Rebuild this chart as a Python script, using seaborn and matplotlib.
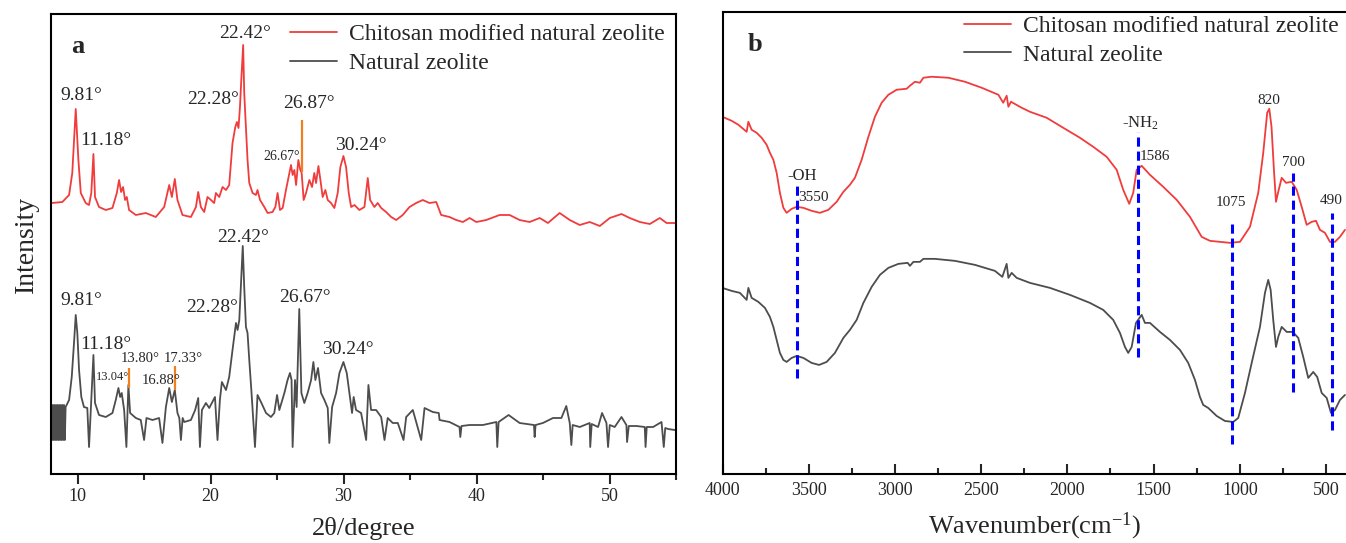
import matplotlib
matplotlib.use("Agg")
import matplotlib.pyplot as plt
import numpy as np
import pandas as pd
import seaborn as sns
from matplotlib.ticker import MultipleLocator, NullLocator

# ---------------- DATA ----------------
# XRD, chitosan modified natural zeolite (2theta in degree, intensity a.u.)
xrd_cs_2theta = [8.05, 8.85, 9.36, 9.60, 9.86, 10.06, 10.24, 10.61, 10.86, 11.03, 11.19, 11.31, 11.61,
                 12.12, 12.62, 12.95, 13.12, 13.27, 13.42, 13.57, 13.70, 13.87, 14.38, 15.13, 15.88,
                 16.51, 16.89, 17.09, 17.31, 17.51, 17.89, 18.52, 18.90, 19.07, 19.27, 19.52, 19.77,
                 20.03, 20.27, 20.40, 20.65, 20.90, 21.16, 21.40, 21.65, 21.86, 21.98, 22.10, 22.21,
                 22.31, 22.45, 22.53, 22.66, 22.78, 22.91, 23.16, 23.41, 23.53, 23.72, 24.04, 24.29,
                 24.66, 24.87, 25.04, 25.22, 25.42, 25.67, 25.87, 26.05, 26.17, 26.30, 26.43, 26.60,
                 26.75, 26.85, 27.00, 27.18, 27.43, 27.63, 27.80, 27.93, 28.11, 28.26, 28.43, 28.63,
                 28.81, 29.06, 29.31, 29.56, 29.76, 29.99, 30.19, 30.39, 30.57, 30.82, 31.19, 31.57,
                 31.82, 32.00, 32.32, 32.57, 32.83, 33.20, 33.58, 33.96, 34.45, 34.96, 35.46, 35.96,
                 36.46, 36.97, 37.34, 37.97, 38.47, 38.97, 39.48, 39.98, 40.73, 41.73, 42.49, 43.24,
                 43.99, 44.75, 45.37, 46.25, 47.01, 47.76, 48.51, 49.27, 50.02, 50.90, 51.52, 52.28,
                 53.03, 53.78, 54.29, 54.91]
xrd_cs_int = [277, 278, 285, 307, 371, 320, 287, 277, 275, 287, 326, 283, 273,
              270, 272, 287, 300, 288, 293, 280, 283, 270, 265, 267, 263,
              273, 295, 283, 301, 280, 265, 263, 273, 288, 273, 268, 283,
              280, 277, 287, 283, 293, 290, 295, 337, 353, 358, 352, 373,
              400, 435, 387, 353, 320, 297, 287, 285, 290, 280, 273, 267,
              268, 273, 287, 270, 272, 290, 303, 315, 305, 310, 295, 320,
              310, 307, 280, 287, 300, 293, 307, 297, 314, 300, 283, 290,
              280, 277, 272, 287, 313, 324, 313, 287, 273, 275, 270, 273,
              302, 280, 273, 277, 272, 268, 263, 260, 265, 273, 277, 280,
              277, 278, 265, 263, 260, 258, 262, 258, 260, 265, 265, 260,
              258, 262, 257, 267, 260, 255, 258, 254, 262, 266, 262, 258,
              256, 262, 257, 257]

# XRD, natural zeolite
xrd_nz_2theta = [8.02, 8.08, 8.14, 8.20, 8.26, 8.32, 8.38, 8.44, 8.50, 8.56, 8.62, 8.68, 8.74, 8.80,
                 8.86, 8.92, 8.98, 9.04, 9.10, 9.36, 9.56, 9.73, 9.86, 9.98, 10.11, 10.28, 10.48,
                 10.73, 10.86, 10.99, 11.19, 11.31, 11.61, 12.12, 12.62, 12.87, 13.07, 13.20, 13.32,
                 13.50, 13.67, 13.82, 13.95, 14.38, 14.75, 15.00, 15.18, 15.63, 16.13, 16.38, 16.64,
                 16.89, 17.09, 17.31, 17.51, 17.65, 17.77, 17.90, 18.02, 18.52, 18.84, 19.07, 19.20,
                 19.35, 19.65, 19.90, 20.33, 20.52, 20.70, 20.85, 21.16, 21.40, 21.65, 21.91, 22.03,
                 22.16, 22.42, 22.53, 22.66, 22.78, 22.91, 23.08, 23.34, 23.53, 23.79, 24.17, 24.54,
                 24.79, 25.00, 25.17, 25.55, 25.79, 25.97, 26.09, 26.17, 26.35, 26.47, 26.67, 26.83,
                 27.05, 27.30, 27.56, 27.73, 27.88, 28.08, 28.31, 28.56, 28.81, 28.93, 29.14, 29.44,
                 29.69, 29.99, 30.24, 30.44, 30.64, 30.76, 30.94, 31.32, 31.70, 31.87, 32.07, 32.45,
                 32.83, 33.08, 33.32, 33.70, 34.08, 34.51, 34.71, 35.21, 35.84, 36.09, 36.71, 37.16,
                 37.22, 37.97, 38.72, 38.78, 38.87, 39.48, 40.48, 41.49, 41.56, 41.66, 42.41, 43.24,
                 44.32, 44.37, 44.44, 44.99, 45.75, 46.38, 46.75, 47.01, 47.13, 47.23, 47.76, 48.51,
                 48.55, 48.66, 49.14, 49.44, 49.77, 49.89, 50.02, 50.39, 50.90, 51.27, 51.32, 51.45,
                 52.03, 52.65, 52.71, 52.80, 53.28, 53.91, 54.08, 54.19, 54.41, 54.91]
xrd_nz_int = [75, 40, 75, 40, 75, 40, 75, 40, 75, 40, 75, 40, 75, 40,
              75, 40, 75, 40, 73, 80, 103, 137, 165, 147, 110, 83, 73,
              72, 33, 70, 125, 77, 65, 63, 67, 80, 92, 83, 87,
              70, 33, 95, 67, 62, 60, 40, 62, 60, 62, 37, 73,
              92, 78, 90, 67, 62, 40, 62, 58, 60, 70, 82, 33,
              70, 77, 72, 83, 40, 80, 98, 90, 103, 130, 157, 150,
              160, 234, 193, 153, 147, 120, 87, 33, 85, 78, 67, 63,
              67, 85, 70, 87, 100, 107, 100, 33, 100, 73, 171, 87,
              77, 87, 100, 118, 100, 112, 87, 80, 72, 37, 73, 87,
              107, 118, 107, 87, 67, 83, 70, 67, 40, 95, 70, 70,
              63, 40, 62, 57, 57, 40, 63, 70, 40, 72, 68, 67,
              60, 58, 53, 43, 54, 55, 55, 58, 33, 58, 65, 57,
              55, 43, 55, 57, 62, 62, 74, 57, 35, 55, 53, 57,
              33, 56, 53, 67, 57, 33, 55, 53, 63, 55, 38, 54,
              54, 53, 33, 53, 53, 58, 33, 52, 51, 50]

# FTIR, chitosan modified natural zeolite (wavenumber cm-1, transmittance a.u.)
ftir_cs_wn = [4001, 3947, 3908, 3860, 3850, 3831, 3802, 3773, 3744, 3725, 3705, 3686, 3667, 3647,
              3628, 3599, 3570, 3531, 3483, 3435, 3386, 3338, 3299, 3261, 3232, 3193, 3154, 3116,
              3077, 3038, 2990, 2932, 2913, 2884, 2855, 2835, 2787, 2690, 2594, 2497, 2400, 2372,
              2352, 2342, 2327, 2265, 2217, 2120, 2024, 1927, 1850, 1772, 1714, 1676, 1641, 1618,
              1598, 1569, 1521, 1444, 1366, 1289, 1221, 1173, 1057, 999, 941, 893, 864, 841, 829,
              816, 802, 790, 777, 757, 732, 699, 670, 641, 612, 583, 558, 535, 506, 477, 448, 419,
              390]
ftir_cs_t = [363, 359, 355, 348, 358, 350, 347, 342, 335, 327, 320, 307, 287, 272,
             267, 271, 273, 272, 269, 267, 270, 278, 288, 295, 302, 320, 343, 363,
             377, 385, 390, 391, 394, 398, 397, 402, 403, 402, 398, 392, 385, 377,
             384, 373, 378, 372, 368, 362, 352, 342, 333, 323, 310, 290, 276, 287,
             310, 314, 305, 293, 280, 263, 243, 239, 237, 238, 253, 287, 327, 367, 371,
             353, 310, 278, 288, 302, 297, 298, 290, 273, 255, 258, 259, 250, 247, 238, 238, 243,
             250]

# FTIR, natural zeolite
ftir_nz_wn = [4001, 3947, 3899, 3860, 3850, 3831, 3792, 3754, 3725, 3705, 3686, 3667, 3647, 3628,
              3599, 3570, 3531, 3483, 3440, 3396, 3348, 3299, 3261, 3222, 3183, 3135, 3087, 3038,
              2980, 2926, 2913, 2893, 2855, 2835, 2768, 2652, 2536, 2420, 2377, 2352, 2342, 2323,
              2294, 2217, 2101, 1985, 1869, 1792, 1734, 1695, 1666, 1647, 1627, 1602, 1569, 1550,
              1521, 1463, 1405, 1347, 1299, 1260, 1231, 1212, 1183, 1134, 1086, 1038, 1009, 970,
              931, 883, 854, 835, 821, 806, 790, 777, 757, 728, 693, 661, 632, 603, 574, 551, 525,
              496, 471, 448, 419, 390]
ftir_nz_t = [192, 189, 187, 180, 192, 182, 178, 172, 163, 153, 140, 127, 120, 118,
             122, 124, 122, 117, 115, 118, 127, 142, 150, 160, 177, 193, 205, 212,
             216, 217, 214, 218, 218, 221, 221, 219, 215, 209, 203, 216, 202, 207,
             202, 197, 192, 185, 177, 170, 160, 147, 133, 127, 133, 157, 165, 157,
             157, 148, 140, 130, 117, 100, 83, 75, 72, 64, 59, 58, 62, 87,
             117, 153, 187, 200, 190, 160, 133, 143, 153, 148, 148, 142, 123, 102, 108, 103, 87,
             82, 67, 70, 80, 85]

series_names = ["Chitosan modified natural zeolite", "Natural zeolite"]

# peak labels, panel a: (text, 2theta, intensity, fontsize)
xrd_labels = [("9.81°", 10.30, 384.5, 14), ("11.18°", 12.12, 339.5, 14), ("22.28°", 20.20, 380.5, 14),
              ("22.42°", 22.61, 447, 14), ("26.67°", 25.32, 324, 10), ("26.87°", 27.40, 376, 14),
              ("30.24°", 31.27, 334.5, 14),
              ("9.81°", 10.30, 179.5, 14), ("11.18°", 12.12, 135.5, 14), ("13.04°", 12.65, 103, 9),
              ("13.80°", 14.69, 121.5, 10.5), ("16.88°", 16.28, 99, 10.5), ("17.33°", 17.94, 121.5, 10.5),
              ("22.28°", 20.12, 172.5, 14), ("22.42°", 22.46, 242.5, 14), ("26.67°", 27.07, 182.5, 14),
              ("30.24°", 30.34, 131, 14)]
# orange marker lines, panel a: (2theta, from, to)
xrd_marks = [(26.88, 308, 360), (13.85, 92, 112), (17.31, 90, 114)]

# FTIR bands, panel b: dashed line (wavenumber, from, to)
ftir_bands = [(3570, 102, 295), (1592, 123, 348), (1047, 36, 260), (693, 88, 307), (465, 50, 267)]
ftir_labels = [("-OH", 3539, 304, 12), ("3550", 3471, 282.5, 11), ("-NH$_2$", 1579, 356, 12),
               ("1586", 1492, 323, 11), ("820", 834, 379, 11), ("700", 687, 317, 11),
               ("1075", 1052, 277, 11), ("490", 469, 279, 11)]

# ---------------- STYLE ----------------
sns.set_style("ticks")
plt.rcParams['font.family'] = ['Liberation Serif', 'DejaVu Serif']
plt.rcParams['mathtext.default'] = 'regular'
RED = "#F03C3C"
GREY = "#4D4D4D"
ORANGE = "#F07F1E"
BLUE = "#0000FF"

fig = plt.figure(figsize=(13.46, 5.43), dpi=100)
ax1 = fig.add_axes([51 / 1346, 69 / 543, 625 / 1346, 460 / 543])
ax2 = fig.add_axes([722.5 / 1346, 69 / 543, 623.5 / 1346, 462.3 / 543])

# ---------------- PANEL a ----------------
df_a1 = pd.DataFrame({"x": xrd_cs_2theta, "y": xrd_cs_int})
df_a2 = pd.DataFrame({"x": xrd_nz_2theta, "y": xrd_nz_int})
sns.lineplot(data=df_a1, x="x", y="y", ax=ax1, color=RED, lw=1.3, sort=False, estimator=None,
             label=series_names[0])
sns.lineplot(data=df_a2, x="x", y="y", ax=ax1, color=GREY, lw=1.3, sort=False, estimator=None,
             label=series_names[1])
for x, y0, y1 in xrd_marks:
    ax1.vlines(x, y0, y1, color=ORANGE, lw=1.6)
for t, x, y, fs in xrd_labels:
    ax1.text(x, y, t, ha="center", va="center", fontsize=fs)
ax1.set_xlim(8, 55)
ax1.set_ylim(6, 466)
ax1.xaxis.set_major_locator(MultipleLocator(10))
ax1.xaxis.set_minor_locator(MultipleLocator(5))
ax1.yaxis.set_major_locator(NullLocator())
ax1.tick_params(axis="x", which="major", direction="out", length=7, width=1.5, labelsize=13, pad=3)
ax1.tick_params(axis="x", which="minor", direction="out", length=4, width=1.5)
for s in ax1.spines.values():
    s.set_linewidth(1.5)
    s.set_color("black")
ax1.set_xlabel("2θ/degree", fontsize=19, labelpad=9)
ax1.set_ylabel("Intensity", fontsize=20, labelpad=9)
ax1.text(0.043, 0.93, "a", transform=ax1.transAxes, fontsize=19, fontweight="bold",
         ha="center", va="center")
ax1.legend(loc="upper left", bbox_to_anchor=(0.382, 0.979), frameon=False, fontsize=17,
           handlelength=2.0, handletextpad=0.5, labelspacing=0.3, borderpad=0, borderaxespad=0)

# ---------------- PANEL b ----------------
df_b1 = pd.DataFrame({"x": ftir_cs_wn, "y": ftir_cs_t})
df_b2 = pd.DataFrame({"x": ftir_nz_wn, "y": ftir_nz_t})
sns.lineplot(data=df_b1, x="x", y="y", ax=ax2, color=RED, lw=1.3, sort=False, estimator=None,
             label=series_names[0])
sns.lineplot(data=df_b2, x="x", y="y", ax=ax2, color=GREY, lw=1.3, sort=False, estimator=None,
             label=series_names[1])
for x, y0, y1 in ftir_bands:
    ax2.vlines(x, y0, y1, color=BLUE, lw=2.2, linestyles=(0, (3, 1.6)))
for t, x, y, fs in ftir_labels:
    ax2.text(x, y, t, ha="center", va="center", fontsize=fs)
ax2.set_xlim(4000, 384)
ax2.set_ylim(6, 468)
ax2.xaxis.set_major_locator(MultipleLocator(500))
ax2.xaxis.set_minor_locator(MultipleLocator(250))
ax2.yaxis.set_major_locator(NullLocator())
ax2.tick_params(axis="x", which="major", direction="in", length=7, width=1.5, labelsize=13, pad=6)
ax2.tick_params(axis="x", which="minor", direction="in", length=4, width=1.5)
for s in ax2.spines.values():
    s.set_linewidth(1.5)
    s.set_color("black")
ax2.spines["right"].set_visible(False)
ax2.set_xlabel("Wavenumber(cm$^{-1}$)", fontsize=19, labelpad=8)
ax2.set_ylabel("")
ax2.text(0.052, 0.93, "b", transform=ax2.transAxes, fontsize=19, fontweight="bold",
         ha="center", va="center")
ax2.legend(loc="upper left", bbox_to_anchor=(0.387, 0.992), frameon=False, fontsize=17,
           handlelength=2.0, handletextpad=0.5, labelspacing=0.3, borderpad=0, borderaxespad=0)

fig.savefig("out.png", dpi=100)
